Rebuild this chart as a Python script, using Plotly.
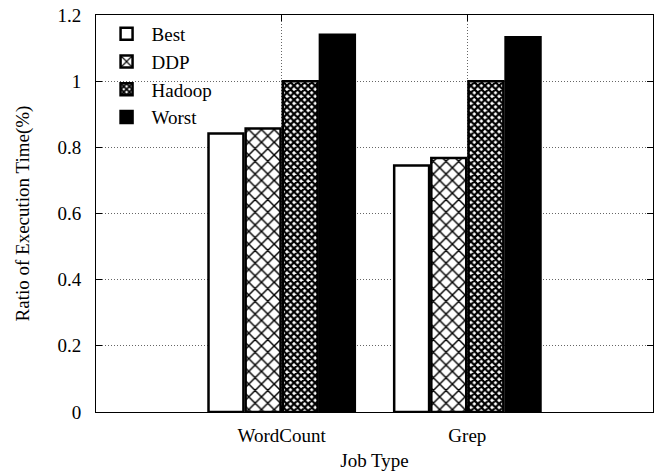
import plotly.graph_objects as go

categories = ["WordCount", "Grep"]
series_names = ["Best", "DDP", "Hadoop", "Worst"]
best = [0.842, 0.745]
ddp = [0.857, 0.768]
hadoop = [1.0, 1.0]
worst = [1.14, 1.133]
y_ticks = [0, 0.2, 0.4, 0.6, 0.8, 1, 1.2]
y_ticklabels = ["0", "0.2", "0.4", "0.6", "0.8", "1", "1.2"]

values = [best, ddp, hadoop, worst]
x_pos = list(range(len(categories)))

patterns = [
    dict(shape="", bgcolor="white", fgcolor="black"),
    dict(shape="x", bgcolor="white", fgcolor="black", size=9, solidity=0.3, fillmode="replace"),
    dict(shape="x", bgcolor="white", fgcolor="black", size=5, solidity=0.7, fillmode="replace"),
    dict(shape="", bgcolor="black", fgcolor="black"),
]
fills = ["white", "white", "white", "black"]

FONT = "Liberation Serif"

fig = go.Figure()
for name, vals, pat, fc in zip(series_names, values, patterns, fills):
    fig.add_trace(go.Bar(
        name=name, x=x_pos, y=vals,
        marker=dict(color=fc, pattern=pat, line=dict(color="black", width=2.5)),
    ))

fig.update_layout(
    width=654, height=471,
    margin=dict(l=96, r=1, t=15, b=59),
    paper_bgcolor="white", plot_bgcolor="white",
    barmode="group", bargap=0.2, bargroupgap=0.06,
    font=dict(family=FONT, size=19, color="black"),
    showlegend=True,
    legend=dict(x=0.01, y=1.0, xanchor="left", yanchor="top",
                bgcolor="rgba(0,0,0,0)", font=dict(size=19),
                tracegroupgap=0, itemwidth=40),
)
GRID = dict(showgrid=True, gridcolor="#666666", griddash="1px,2px", gridwidth=1)
fig.update_xaxes(
    range=[-1, 2], tickvals=x_pos, ticktext=categories,
    ticklabelstandoff=6,
    showline=True, linecolor="black", linewidth=1, mirror="ticks",
    ticks="inside", ticklen=6, tickcolor="black",
    zeroline=False, tickfont=dict(size=19),
    title=dict(text="Job Type", standoff=8, font=dict(size=19)),
    **GRID,
)
fig.update_yaxes(
    range=[0, 1.2], tickvals=y_ticks, ticktext=y_ticklabels,
    showline=True, linecolor="black", linewidth=1, mirror="ticks",
    ticks="inside", ticklen=6, tickcolor="black",
    ticklabelstandoff=10,
    zeroline=False, tickfont=dict(size=19),
    title=dict(text="Ratio of Execution Time(%)", standoff=22, font=dict(size=19)),
    **GRID,
)

fig.write_html("out.html")
